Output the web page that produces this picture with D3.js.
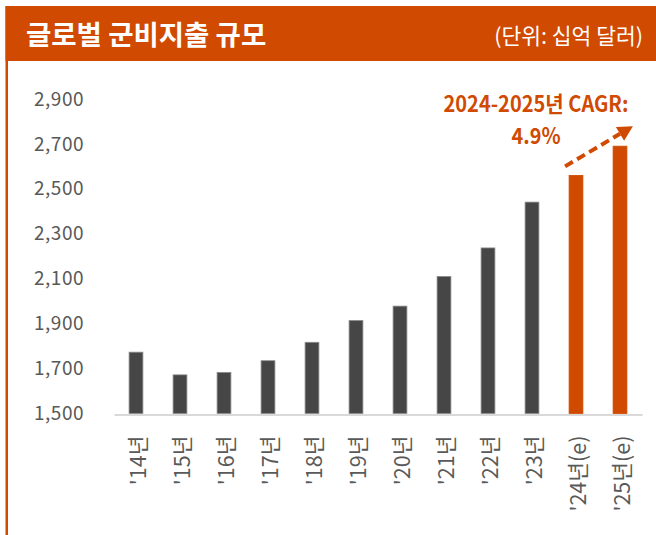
<!DOCTYPE html>
<html>

<head>
    <meta charset="utf-8">
    <title>글로벌 군비지출 규모</title>
    <script type="text/javascript" src="https://cdn.jsdelivr.net/npm/d3@7"></script>
    <style>
        body { margin: 0; background: #ffffff; }
        svg { display: block; }
    </style>
</head>

<body>

    <script type="text/javascript">
    /* データ */
    var categories = ["'14년", "'15년", "'16년", "'17년", "'18년", "'19년", "'20년", "'21년", "'22년", "'23년", "'24년(e)", "'25년(e)"];
    var spending = [1773, 1672, 1683, 1735, 1817, 1914, 1978, 2110, 2237, 2441, 2560, 2690];
    var isEstimate = [false, false, false, false, false, false, false, false, false, false, true, true];
    var yTicks = [1500, 1700, 1900, 2100, 2300, 2500, 2700, 2900];
    var titleText = '글로벌 군비지출 규모';
    var unitText = '(단위: 십억 달러)';
    var cagrLines = ['2024-2025년 CAGR:', '4.9%'];

    function MilitaryChart() {
        var svgWidth = 656;
        var svgHeight = 535;
        var orange = '#d04a02';
        var darkBar = '#464646';
        var labelColor = '#595959';
        var font = '"Noto Sans CJK KR", "Noto Sans", sans-serif';

        var svg = d3.select('body').append('svg')
            .attr('width', svgWidth)
            .attr('height', svgHeight);

        /* ヘッダー帯と左の縦線 */
        svg.append('rect')
            .attr('x', 5.5).attr('y', 6)
            .attr('width', svgWidth - 5.5).attr('height', 55)
            .attr('fill', orange);
        svg.append('rect')
            .attr('x', 5.5).attr('y', 6)
            .attr('width', 2.5).attr('height', svgHeight - 6)
            .attr('fill', orange);

        svg.append('text')
            .text(titleText)
            .attr('x', 26).attr('y', 44.5)
            .attr('font-family', font)
            .attr('font-size', '27.5px')
            .attr('font-weight', 'bold')
            .attr('fill', '#ffffff');

        svg.append('text')
            .text(unitText)
            .attr('x', 643).attr('y', 43.5)
            .attr('text-anchor', 'end')
            .attr('font-family', font)
            .attr('font-size', '21.5px')
            .attr('fill', '#ffffff');

        /* スケール */
        var x = d3.scaleBand()
            .domain(categories)
            .range([114, 642])
            .paddingInner(0.686)
            .paddingOuter(0.343);

        var y = d3.scaleLinear()
            .domain([1500, 2900])
            .range([413.5, 99]);

        /* Y軸ラベル */
        var yAxis = svg.append('g')
            .attr('transform', 'translate(84,0)')
            .call(d3.axisLeft(y).tickValues(yTicks).tickSize(0).tickPadding(0).tickFormat(d3.format(',')));
        yAxis.select('.domain').remove();
        yAxis.selectAll('text')
            .attr('font-family', font)
            .attr('font-size', '19px')
            .attr('letter-spacing', '0.5px')
            .attr('fill', labelColor);

        /* 棒 */
        var data = categories.map(function(c, i) {
            return { cat: c, value: spending[i], est: isEstimate[i] };
        });

        svg.selectAll('rect.bar')
            .data(data)
            .enter()
            .append('rect')
            .attr('class', 'bar')
            .attr('x', function(d) { return x(d.cat); })
            .attr('y', function(d) { return y(d.value); })
            .attr('width', x.bandwidth())
            .attr('height', function(d) { return y(1500) - y(d.value); })
            .attr('fill', function(d) { return d.est ? orange : darkBar; })
            .attr('stroke', function(d) { return d.est ? orange : '#8c8c8c'; })
            .attr('stroke-width', 0.8);

        /* X軸 (基線とラベル) */
        var xAxis = svg.append('g')
            .attr('transform', 'translate(0,' + y(1500) + ')')
            .call(d3.axisBottom(x).tickSize(0).tickPadding(0));
        xAxis.select('.domain')
            .attr('stroke', '#d9d9d9')
            .attr('stroke-width', 2)
            .attr('transform', 'translate(0,1)');
        xAxis.selectAll('text')
            .attr('font-family', font)
            .attr('font-size', '21.5px')
            .attr('fill', labelColor)
            .attr('text-anchor', 'end')
            .attr('dy', '0.35em')
            .attr('transform', 'translate(2,22) rotate(-90)');

        /* CAGR 注記 */
        var cagrX = 536;
        svg.append('text')
            .text(cagrLines[0])
            .attr('x', cagrX).attr('y', 111.5)
            .attr('text-anchor', 'middle')
            .attr('textLength', 185)
            .attr('lengthAdjust', 'spacingAndGlyphs')
            .attr('font-family', font)
            .attr('font-size', '22px')
            .attr('font-weight', 'bold')
            .attr('fill', orange);
        svg.append('text')
            .text(cagrLines[1])
            .attr('x', cagrX).attr('y', 144)
            .attr('text-anchor', 'middle')
            .attr('textLength', 49)
            .attr('lengthAdjust', 'spacingAndGlyphs')
            .attr('font-family', font)
            .attr('font-size', '22px')
            .attr('font-weight', 'bold')
            .attr('fill', orange);

        /* 点線の矢印 ('24 → '25) */
        var x0 = x(categories[10]) - 4;
        var y0 = y(spending[10]) - 9;
        var tipX = x(categories[11]) + x.bandwidth() + 6;
        var tipY = y(spending[11]) - 20;
        var ang = Math.atan2(tipY - y0, tipX - x0);
        var headLen = 15;
        var headHalf = 8;
        var bx = tipX - headLen * Math.cos(ang);
        var by = tipY - headLen * Math.sin(ang);

        svg.append('line')
            .attr('x1', x0).attr('y1', y0)
            .attr('x2', bx).attr('y2', by)
            .attr('stroke', orange)
            .attr('stroke-width', 4)
            .attr('stroke-dasharray', '9,5');

        svg.append('path')
            .attr('d', 'M' + tipX + ',' + tipY +
                'L' + (bx + headHalf * Math.sin(ang)) + ',' + (by - headHalf * Math.cos(ang)) +
                'L' + (bx - headHalf * Math.sin(ang)) + ',' + (by + headHalf * Math.cos(ang)) + 'Z')
            .attr('fill', orange);
    }

    MilitaryChart();
    </script>
</body>

</html>
